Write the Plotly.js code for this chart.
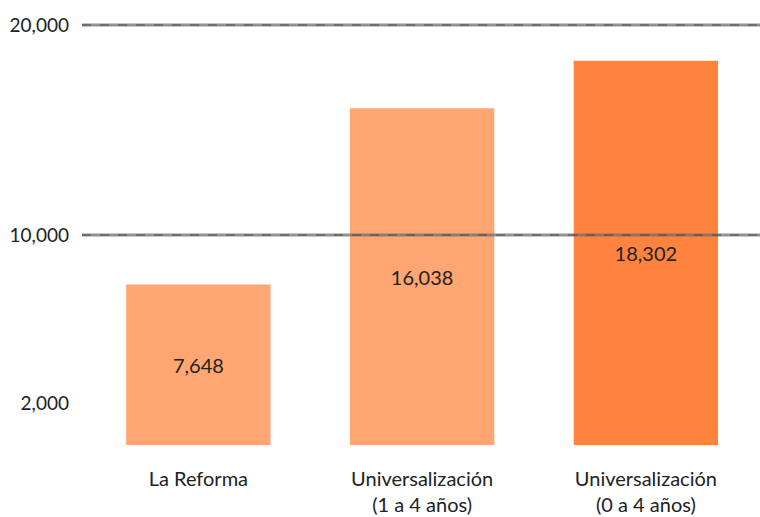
<!DOCTYPE html>
<html>
<head>
<meta charset="utf-8">
<script src="https://cdn.plot.ly/plotly-3.0.1.min.js"></script>
<style>html,body{margin:0;padding:0;background:#fff;}#chart{width:760px;height:517px;}</style>
</head>
<body>
<div id="chart"></div>
<script>
var categories = ["La Reforma", "Universalización<br>(1 a 4 años)", "Universalización<br>(0 a 4 años)"];
var values = [7648, 16038, 18302];
var barColors = ["#FFA672", "#FFA672", "#FF823E"];
var tickValues = [2000, 10000, 20000];
var tickLabels = ["2,000", "10,000", "20,000"];
var gridValues = [10000, 20000];

var FONT = "Lato, 'Noto Sans', sans-serif";

var trace = {
  type: "bar",
  x: [0, 1, 2],
  y: values,
  marker: {color: barColors, line: {width: 0}},
  width: 0.645,
  text: values.map(function(v){ return v.toLocaleString("en-US"); }),
  textposition: "inside",
  insidetextanchor: "middle",
  textangle: 0,
  textfont: {family: FONT, size: 20, color: "#222"},
  hoverinfo: "none"
};

var shapes = [];
gridValues.forEach(function(v){
  shapes.push({type:"line", xref:"paper", yref:"y", x0:0, x1:1, y0:v, y1:v, layer:"above",
    line:{color:"rgba(110,110,110,0.75)", width:3}});
  shapes.push({type:"line", xref:"paper", yref:"y", x0:0, x1:1, y0:v, y1:v, layer:"above",
    line:{color:"rgba(60,60,60,0.55)", width:1.5, dash:"dash"}});
});

var layout = {
  width: 760, height: 517,
  margin: {l: 82, r: 0, t: 4, b: 72},
  paper_bgcolor: "#fff", plot_bgcolor: "#fff",
  showlegend: false,
  font: {family: FONT, size: 20, color: "#222"},
  xaxis: {
    range: [-0.52, 2.51],
    tickvals: [0, 1, 2],
    ticktext: categories,
    showgrid: false, zeroline: false, showline: false,
    ticks: "", ticklabelstandoff: 20,
    tickfont: {family: FONT, size: 20, color: "#222"},
    fixedrange: true
  },
  yaxis: {
    range: [0, 21000],
    tickvals: tickValues,
    ticktext: tickLabels,
    showgrid: false, zeroline: false, showline: false,
    ticks: "", ticklabelstandoff: 12,
    tickfont: {family: FONT, size: 19, color: "#222"},
    fixedrange: true
  },
  shapes: shapes,
  bargap: 0.355
};

Plotly.newPlot("chart", [trace], layout, {displayModeBar: false, staticPlot: true});
</script>
</body>
</html>
